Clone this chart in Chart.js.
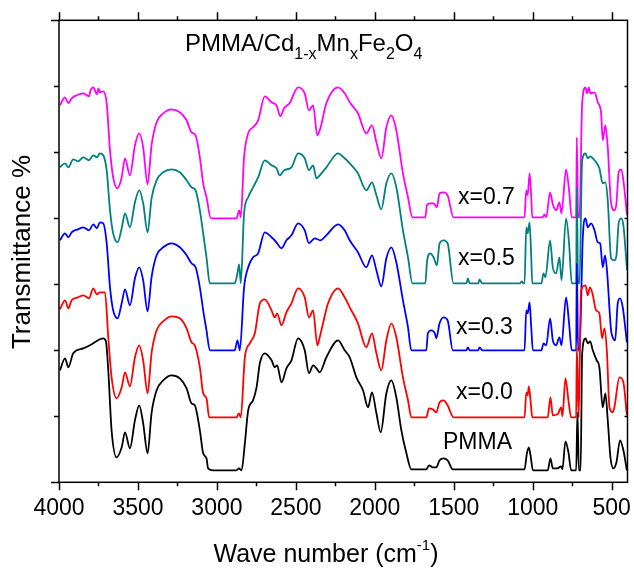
<!DOCTYPE html>
<html>
<head>
<meta charset="utf-8">
<script src="https://cdn.jsdelivr.net/npm/chart.js@4/dist/chart.umd.min.js"></script>
<style>
html,body{margin:0;padding:0;background:#fff;}
#wrap{width:634px;height:571px;position:relative;}
</style>
</head>
<body>
<div id="wrap"><canvas id="c" width="634" height="571"></canvas></div>
<script>
// Wavenumber ticks (cm-1)
const xTickLabels = [4000, 3500, 3000, 2500, 2000, 1500, 1000, 500];
const seriesLabels = ["PMMA", "x=0.0", "x=0.3", "x=0.5", "x=0.7"];

// PMMA (black)
const wnPMMA = [3994,3962,3941,3910,3846,3804,3741,3720,3703,3688,3667,3635,3603,3582,3551,3519,3492,3467,3439,3414,3382,3340,3287,3235,3192,3161,3140,3108,3087,3066,3056,3024,2876,2861,2844,2823,2802,2771,2749,2728,2697,2654,2634,2619,2591,2560,2528,2486,2444,2417,2391,2370,2349,2307,2233,2191,2159,2117,2075,2043,2018,1990,1963,1927,1895,1864,1832,1800,1769,1674,1657,1634,1611,1590,1565,1539,1506,1052,1037,1025,1014,999,905,888,873,843,820,812,793,774,757,725,717,708,697,687,666,652,636,620,595,578,557,540,525,508,489,470,447,426,404];
const tPMMA  = [112,124,115,129,134,137,143,144,141,112,52,25,35,50,34,62,77,59,29,69,92,102,107,104,94,79,77,52,29,24,14,12,12,14,12,39,72,82,95,119,129,122,115,117,100,114,122,144,132,109,117,114,110,125,142,132,125,105,92,75,90,69,50,89,102,85,52,29,13,13,17,15,15,22,24,22,13,13,29,35,27,12,12,24,14,14,16,13,41,30,12,12,70,12,12,129,144,139,141,132,122,115,75,89,62,25,14,20,42,32,12];

// x = 0.0 (red)
const wnX00 = [3994,3962,3941,3920,3880,3846,3810,3783,3760,3741,3709,3688,3667,3635,3603,3582,3551,3519,3492,3467,3439,3414,3382,3340,3287,3235,3192,3161,3140,3108,3087,3066,3049,2876,2861,2849,2823,2792,2760,2728,2697,2654,2634,2619,2591,2560,2528,2486,2444,2417,2391,2364,2349,2328,2296,2233,2191,2159,2107,2054,2018,1990,1959,1927,1895,1864,1822,1790,1769,1674,1657,1634,1611,1590,1565,1539,1502,1052,1041,1032,1025,1014,1003,905,888,873,843,820,812,793,774,757,725,721,709,694,666,652,638,622,599,578,561,546,531,514,494,483,451,426,404];
const tX00  = [173,182,174,182,185,187,184,194,188,190,190,145,105,84,95,110,96,125,137,122,89,129,152,161,166,164,154,140,137,115,89,84,65,65,69,65,125,139,149,179,183,172,165,169,157,170,179,194,185,165,172,137,145,159,179,194,185,175,159,135,149,129,112,142,159,145,105,82,65,65,74,73,70,80,82,77,65,65,90,87,96,82,65,65,85,67,68,75,66,104,82,65,65,135,65,192,197,187,195,189,172,169,144,154,132,75,70,75,105,100,67];

// x = 0.3 (blue)
const wnX03 = [3994,3962,3941,3920,3880,3846,3810,3783,3760,3741,3720,3698,3677,3657,3629,3603,3582,3551,3519,3492,3467,3439,3414,3382,3340,3287,3235,3192,3161,3135,3108,3087,3066,3045,2887,2870,2855,2828,2802,2771,2739,2697,2654,2623,2591,2560,2528,2486,2444,2417,2381,2345,2307,2233,2191,2159,2107,2054,2018,1990,1959,1927,1895,1864,1822,1790,1769,1674,1664,1642,1620,1611,1590,1565,1539,1506,1420,1411,1400,1345,1337,1320,1052,1041,1032,1020,1010,999,945,932,915,890,873,852,831,818,789,770,753,725,721,713,704,683,666,652,630,609,588,573,557,542,530,504,491,478,462,447,430,404];
const tX03  = [242,249,245,250,253,255,252,258,254,260,259,239,195,172,164,179,193,177,204,215,202,171,205,227,235,239,235,227,219,215,195,172,152,132,132,142,132,195,215,225,229,250,245,240,234,242,247,259,252,239,244,242,247,258,252,242,230,215,227,212,196,224,235,220,182,155,132,132,149,152,149,144,159,165,162,132,132,135,132,132,135,132,132,172,169,180,156,132,132,139,137,164,142,137,145,137,185,159,132,132,219,132,132,245,264,255,259,252,240,239,215,227,212,152,144,142,179,184,175,140];

// x = 0.5 (teal)
const wnX05 = [3994,3962,3941,3910,3880,3846,3810,3783,3760,3741,3720,3698,3677,3657,3629,3603,3582,3551,3519,3492,3467,3439,3414,3382,3340,3287,3235,3192,3161,3135,3108,3087,3066,3045,2887,2870,2859,2849,2828,2802,2771,2739,2697,2654,2623,2602,2575,2528,2486,2444,2417,2391,2370,2349,2307,2233,2191,2159,2107,2054,2018,1990,1959,1927,1895,1864,1822,1790,1762,1680,1670,1649,1628,1607,1590,1565,1539,1502,1420,1411,1400,1345,1337,1320,1080,1070,1060,1052,1041,1032,1020,1010,1003,945,932,920,890,873,852,831,818,789,770,753,725,721,713,704,687,666,652,636,609,578,557,540,525,504,483,470,456,440,426,403];
const tX05  = [315,319,315,323,321,325,322,327,325,329,327,312,272,249,240,254,269,255,280,292,279,250,284,302,310,313,310,302,295,292,272,249,225,199,199,209,218,199,269,285,295,305,322,317,314,307,312,315,329,324,312,317,304,307,315,329,324,319,309,292,300,287,273,299,309,295,252,225,199,199,220,229,225,217,239,242,239,199,199,204,199,199,203,199,199,201,199,199,255,249,260,227,199,199,209,205,242,215,209,225,202,264,239,199,199,295,199,199,322,329,324,326,322,314,299,300,282,224,222,227,259,264,257,212];

// x = 0.7 (magenta)
const wnX07 = [3994,3962,3941,3920,3888,3846,3810,3800,3783,3760,3750,3741,3720,3698,3677,3657,3629,3603,3582,3551,3519,3492,3467,3439,3414,3382,3340,3287,3235,3192,3161,3135,3108,3087,3066,3038,2876,2859,2849,2828,2802,2771,2739,2697,2654,2623,2598,2575,2540,2486,2444,2417,2391,2364,2345,2307,2233,2191,2159,2107,2054,2018,1990,1959,1927,1895,1864,1822,1790,1762,1680,1670,1649,1628,1607,1590,1565,1539,1502,1052,1041,1032,1020,1010,1003,936,926,915,890,873,852,831,818,789,770,753,725,721,713,704,687,666,656,645,636,609,588,567,557,540,525,504,483,470,456,440,426,403];
const tX07  = [377,385,379,384,387,389,386,392,395,388,394,390,391,379,332,305,294,305,324,307,337,349,335,298,337,360,369,373,370,362,350,347,325,299,285,264,264,272,265,325,349,355,362,386,380,377,366,374,379,395,389,372,377,347,354,379,395,389,380,369,349,357,340,324,355,367,352,309,285,265,265,277,279,279,275,289,290,287,265,265,292,287,309,287,265,265,268,265,290,278,272,280,269,313,292,265,265,345,265,265,379,395,389,395,389,390,380,369,342,357,335,279,272,279,310,313,302,267];

const colors = ["#000000", "#ff0000", "#0000ff", "#008080", "#ff00ff"];
const wns = [wnPMMA, wnX00, wnX03, wnX05, wnX07];
const ts = [tPMMA, tX00, tX03, tX05, tX07];

const datasets = wns.map((w, i) => ({
  label: seriesLabels[i],
  data: w.map((x, k) => ({x: x, y: ts[i][k]})),
  borderColor: colors[i],
  borderWidth: 1.8,
  pointRadius: 0,
  fill: false,
  cubicInterpolationMode: 'monotone'
}));

const FONT = '"Liberation Sans", Arial, sans-serif';

const decor = {
  id: 'decor',
  afterDraw(chart) {
    const ctx = chart.ctx;
    const a = chart.chartArea;
    const xs = chart.scales.x, ys = chart.scales.y;
    ctx.save();
    ctx.strokeStyle = '#000';
    ctx.fillStyle = '#000';
    ctx.lineWidth = 1.5;
    ctx.strokeRect(a.left, a.top, a.right - a.left, a.bottom - a.top);
    // x ticks (bottom and top, outward)
    for (let v = 4000; v >= 500; v -= 250) {
      const px = Math.round(xs.getPixelForValue(v)) + 0.5;
      const major = v % 500 === 0;
      const len = major ? 8 : 4;
      ctx.beginPath();
      ctx.moveTo(px, a.bottom); ctx.lineTo(px, a.bottom + len);
      ctx.moveTo(px, a.top); ctx.lineTo(px, a.top - len);
      ctx.stroke();
    }
    // y ticks
    for (let v = 0; v <= 462; v += 66) {
      const py = Math.round(ys.getPixelForValue(v)) + 0.5;
      const len = (v === 462 || v === 0) ? 8 : 5;
      ctx.beginPath();
      ctx.moveTo(a.left - len, py); ctx.lineTo(a.left, py);
      if (v !== 0 && v !== 462) { ctx.moveTo(a.right, py); ctx.lineTo(a.right - 3, py); }
      ctx.stroke();
    }
    // x tick labels
    ctx.font = '23px ' + FONT;
    ctx.textAlign = 'center';
    ctx.textBaseline = 'middle';
    xTickLabels.forEach(v => {
      ctx.fillText(String(v), xs.getPixelForValue(v), 509);
    });
    // x title with superscript
    const main1 = 'Wave number (cm', sup = '-1', main2 = ')';
    ctx.font = '25px ' + FONT;
    const w1 = ctx.measureText(main1).width, w3 = ctx.measureText(main2).width;
    ctx.font = '15px ' + FONT;
    const w2 = ctx.measureText(sup).width;
    let sx = 326 - (w1 + w2 + w3) / 2;
    ctx.textAlign = 'left';
    ctx.textBaseline = 'alphabetic';
    ctx.font = '25px ' + FONT;
    ctx.fillText(main1, sx, 562);
    ctx.font = '15px ' + FONT;
    ctx.fillText(sup, sx + w1, 550);
    ctx.font = '25px ' + FONT;
    ctx.fillText(main2, sx + w1 + w2, 562);
    // y title
    ctx.save();
    ctx.translate(23, 252);
    ctx.rotate(-Math.PI / 2);
    ctx.font = '26px ' + FONT;
    ctx.textAlign = 'center';
    ctx.textBaseline = 'middle';
    ctx.fillText('Transmittance %', 0, 0);
    ctx.restore();
    // chart title with subscripts
    const parts = [['PMMA/Cd', 0], ['1-x', 1], ['Mn', 0], ['x', 1], ['Fe', 0], ['2', 1], ['O', 0], ['4', 1]];
    let tx = 185;
    ctx.textAlign = 'left';
    parts.forEach(p => {
      ctx.font = (p[1] ? '16px ' : '24px ') + FONT;
      ctx.fillText(p[0], tx, p[1] ? 59 : 51);
      tx += ctx.measureText(p[0]).width;
    });
    // series labels
    ctx.font = '23px ' + FONT;
    ctx.textBaseline = 'middle';
    const lab = [['x=0.7', 458, 198], ['x=0.5', 458, 259], ['x=0.3', 456, 328], ['x=0.0', 456, 393], ['PMMA', 443, 443]];
    lab.forEach(l => ctx.fillText(l[0], l[1], l[2]));
    ctx.restore();
  }
};

new Chart(document.getElementById('c'), {
  type: 'line',
  data: { datasets: datasets },
  options: {
    responsive: false,
    animation: false,
    layout: { padding: { left: 59, right: 6.5, top: 20.3, bottom: 88.7 } },
    plugins: { legend: { display: false }, tooltip: { enabled: false } },
    scales: {
      x: { type: 'linear', reverse: true, min: 400, max: 4000, display: false },
      y: { type: 'linear', min: 0, max: 462, display: false }
    }
  },
  plugins: [decor]
});
</script>
</body>
</html>
